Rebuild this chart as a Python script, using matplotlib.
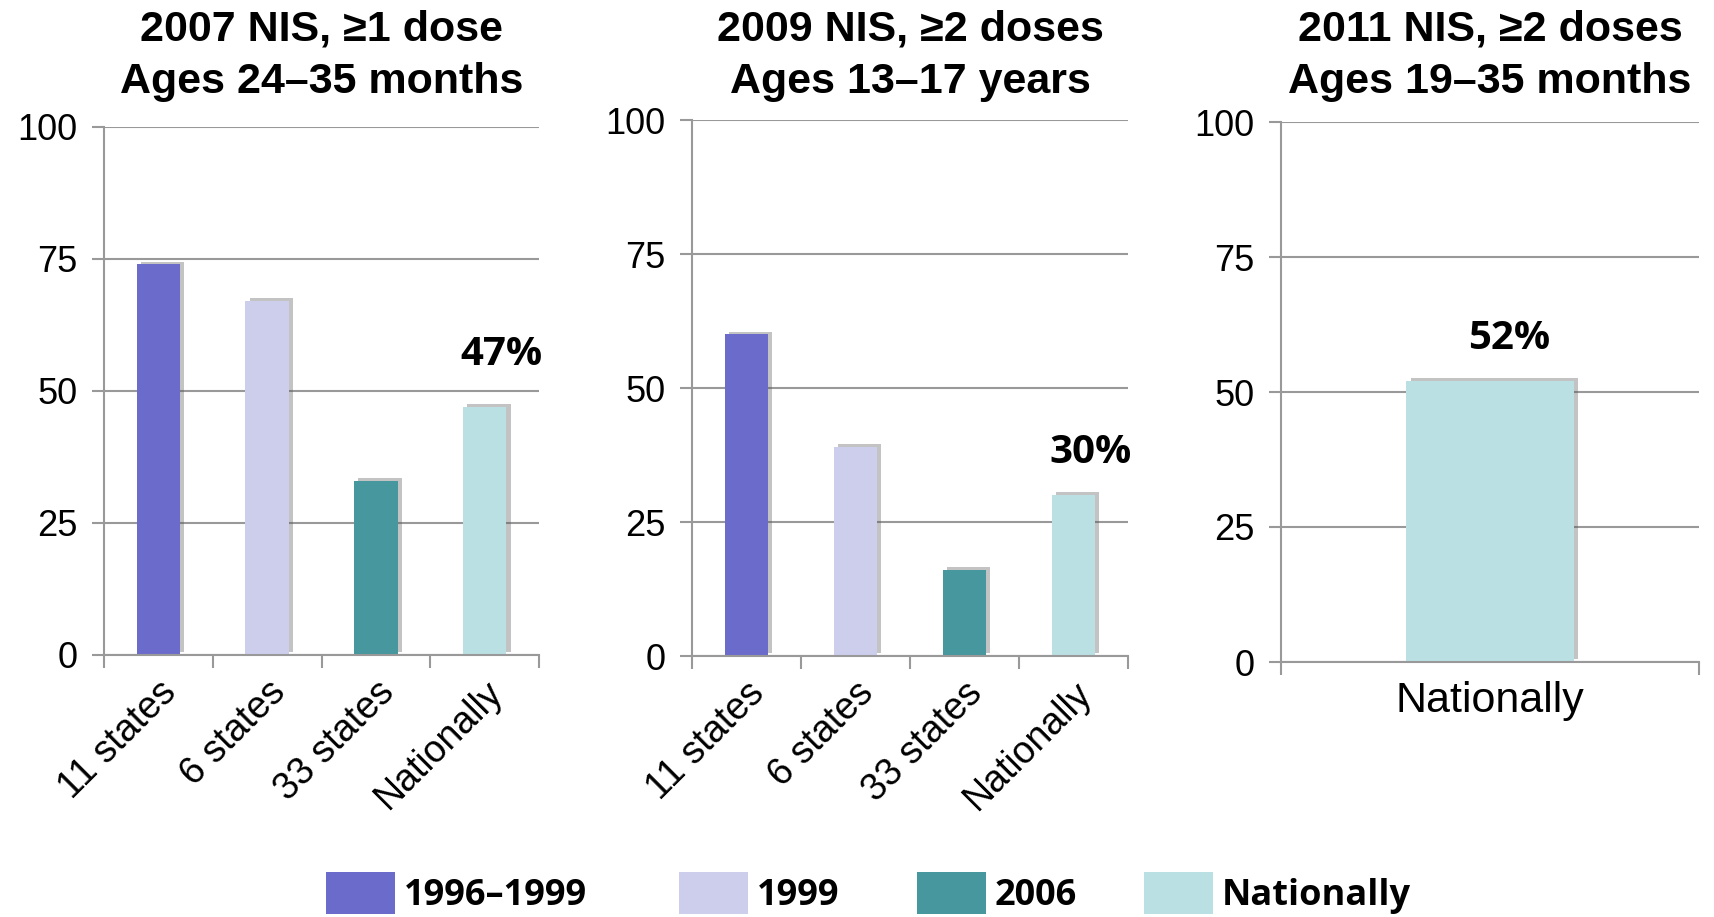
import matplotlib
matplotlib.use('Agg')
import matplotlib.pyplot as plt
import matplotlib.patheffects as pe
from matplotlib.patches import Patch

plt.rcParams['font.family'] = ['Liberation Sans', 'DejaVu Sans']

# data
cats = ['11 states', '6 states', '33 states', 'Nationally']
vals_2007 = [74, 67, 33, 47]
vals_2009 = [60, 39, 16, 30]
cats_2011 = ['Nationally']
vals_2011 = [52]

titles = ['2007 NIS, \u22651 dose\nAges 24\u201335 months',
          '2009 NIS, \u22652 doses\nAges 13\u201317 years',
          '2011 NIS, \u22652 doses\nAges 19\u201335 months']
labels_pct = ['47%', '30%', '52%']

legend_names = ['1996\u20131999', '1999', '2006', 'Nationally']
colors = ['#6B6BCC', '#CDCEEC', '#46979E', '#BAE0E3']

grid_c = '#999999'
shadow = [pe.SimplePatchShadow(offset=(3, 2), shadow_rgbFace='#555555', alpha=0.35), pe.Normal()]

fig = plt.figure(figsize=(17.14, 9.17), dpi=100)
W, H = 1714, 917

def ax_rect(l, r, t, b):
    return [l / W, 1 - b / H, (r - l) / W, (b - t) / H]

ax1 = fig.add_axes(ax_rect(104, 539, 127, 655))
ax2 = fig.add_axes(ax_rect(692, 1128, 120, 656))
ax3 = fig.add_axes(ax_rect(1281, 1699, 122, 662))


def style(ax, n, ytick_fs, xtick_fs, rotate):
    ax.set_ylim(0, 100)
    ax.set_xlim(-0.5, n - 0.5)
    ax.set_yticks([0, 25, 50, 75, 100])
    ax.yaxis.grid(True, color=grid_c, linewidth=1.5)
    ax.set_axisbelow(True)
    for s in ['top', 'right']:
        ax.spines[s].set_visible(False)
    for s in ['left', 'bottom']:
        ax.spines[s].set_color(grid_c)
        ax.spines[s].set_linewidth(1.5)
    ax.tick_params(axis='y', length=9, width=1.5, color=grid_c, labelsize=ytick_fs, pad=10)
    ax.set_xticks(range(n))
    ax.set_xticks([i - 0.5 for i in range(n + 1)], minor=True)
    ax.tick_params(axis='x', which='major', length=0, labelsize=xtick_fs, pad=14)
    ax.tick_params(axis='x', which='minor', length=9, width=1.5, color=grid_c)
    if rotate:
        for lab in ax.get_xticklabels():
            lab.set_rotation(45)
            lab.set_ha('right')
            lab.set_va('top')
            lab.set_rotation_mode('anchor')


pct_offsets = [(12, 24), (12, 17), (14, 17)]

for ax, vals, lab, off in [(ax1, vals_2007, labels_pct[0], pct_offsets[0]),
                           (ax2, vals_2009, labels_pct[1], pct_offsets[1])]:
    bars = ax.bar(range(len(cats)), vals, width=0.4, color=colors)
    for b in bars:
        b.set_path_effects(shadow)
    ax.set_xticks(range(len(cats)))
    ax.set_xticklabels(cats)
    style(ax, len(cats), 26, 27, True)
    ax.annotate(lab, (len(cats) - 1, vals[-1]), xytext=off, textcoords='offset points',
                ha='center', va='bottom', fontsize=29, fontweight='bold', family=['Open Sans', 'DejaVu Sans'])

bars = ax3.bar(range(len(cats_2011)), vals_2011, width=0.4, color=colors[3])
for b in bars:
    b.set_path_effects(shadow)
ax3.set_xticks(range(len(cats_2011)))
ax3.set_xticklabels(cats_2011)
style(ax3, len(cats_2011), 26, 31, False)
ax3.annotate(labels_pct[2], (0, vals_2011[0]), xytext=pct_offsets[2], textcoords='offset points',
             ha='center', va='bottom', fontsize=29, fontweight='bold', family=['Open Sans', 'DejaVu Sans'])

# titles
for ax, title in zip([ax1, ax2, ax3], titles):
    p = ax.get_position()
    fig.text(p.x0 + p.width / 2, 1 - 56 / H, title, ha='center', va='center',
             fontsize=31, fontweight='bold', linespacing=1.4)

# legend, one entry each
leg_x = [326, 679, 917, 1144]
for name, c, x in zip(legend_names, colors, leg_x):
    leg = fig.legend(handles=[Patch(facecolor=c, edgecolor='none')], labels=[name],
                     loc='center left', bbox_to_anchor=(x / W, 1 - 893 / H), frameon=False,
                     borderaxespad=0, borderpad=0, handlelength=1.9, handleheight=1.45,
                     handletextpad=0.25,
                     prop={'family': ['Open Sans', 'Liberation Sans'],
                           'weight': 'bold', 'size': 26})

fig.savefig('out.png', dpi=100)
